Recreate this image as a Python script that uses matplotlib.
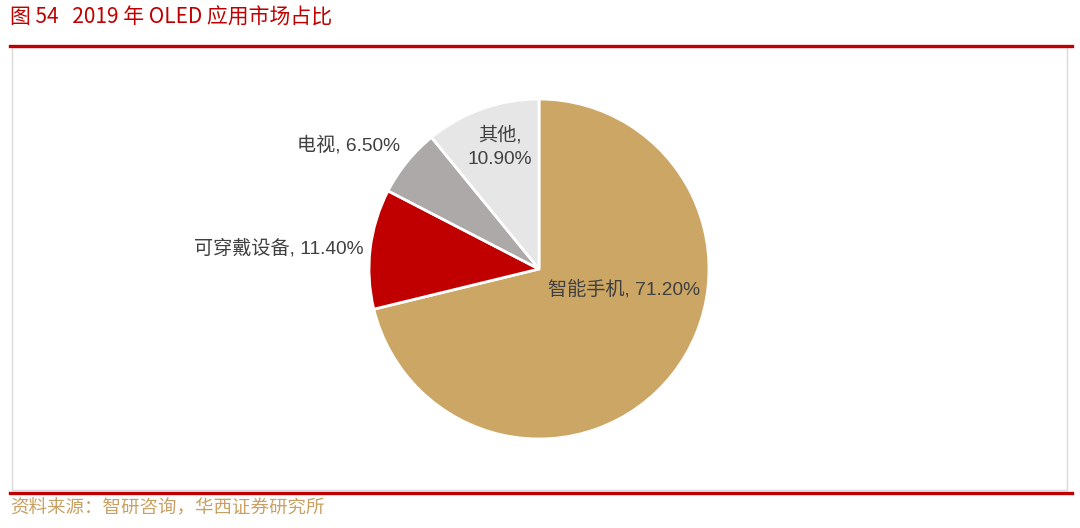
import matplotlib.pyplot as plt
from matplotlib.patches import Rectangle
from matplotlib.lines import Line2D

# datos
categorias = ['智能手机', '可穿戴设备', '电视', '其他']
valores = [71.2, 11.4, 6.5, 10.9]
colores = ['#CCA664', '#C00000', '#ADA9A9', '#E6E6E6']
etiquetas = ['智能手机, 71.20%', '可穿戴设备, 11.40%', '电视, 6.50%', '其他,\n10.90%']

titulo = '图 54   2019 年 OLED 应用市场占比'
fuente = '资料来源：智研咨询，华西证券研究所'

fam = ['Liberation Sans', 'Noto Sans CJK SC']
W, H = 1080, 528

fig = plt.figure(figsize=(W / 100, H / 100), dpi=100)

# titulo y pie de pagina
fig.text(10 / W, 1 - 18 / H, titulo, color='#C00000', fontsize=15,
         family=['Noto Sans CJK SC'], va='center', ha='left')
fig.text(10 / W, 1 - 508 / H, fuente, color='#C9A063', fontsize=13.3,
         family=['Noto Sans CJK SC'], va='center', ha='left')

# marco gris y lineas rojas
fig.patches.append(Rectangle((12 / W, 1 - 490 / H), (1067 - 12) / W, (490 - 47) / H,
                             transform=fig.transFigure, fill=False,
                             edgecolor='#D9D9D9', linewidth=1))
for y in (46, 493):
    fig.lines.append(Line2D([10 / W, 1072 / W], [1 - y / H, 1 - y / H],
                            transform=fig.transFigure, color='#C00000', linewidth=2.4))

# pastel
ax = fig.add_axes([369 / W, (H - 439) / H, 340 / W, 340 / H])
ax.pie(valores, colors=colores, startangle=90, counterclock=False,
       wedgeprops=dict(edgecolor='white', linewidth=2))
ax.set_xlim(-1, 1)
ax.set_ylim(-1, 1)
ax.set_aspect('equal')
ax.axis('off')

# posiciones de las etiquetas (unidades del radio)
pos = [(0.05, -0.12, 'left'), (-1.035, 0.12, 'right'),
       (-0.82, 0.73, 'right'), (-0.23, 0.72, 'center')]
for txt, (x, y, ha) in zip(etiquetas, pos):
    ax.text(x, y, txt, ha=ha, va='center', fontsize=13.8, color='#404040',
            family=fam, linespacing=1.5)

fig.savefig('out.png', dpi=100)
